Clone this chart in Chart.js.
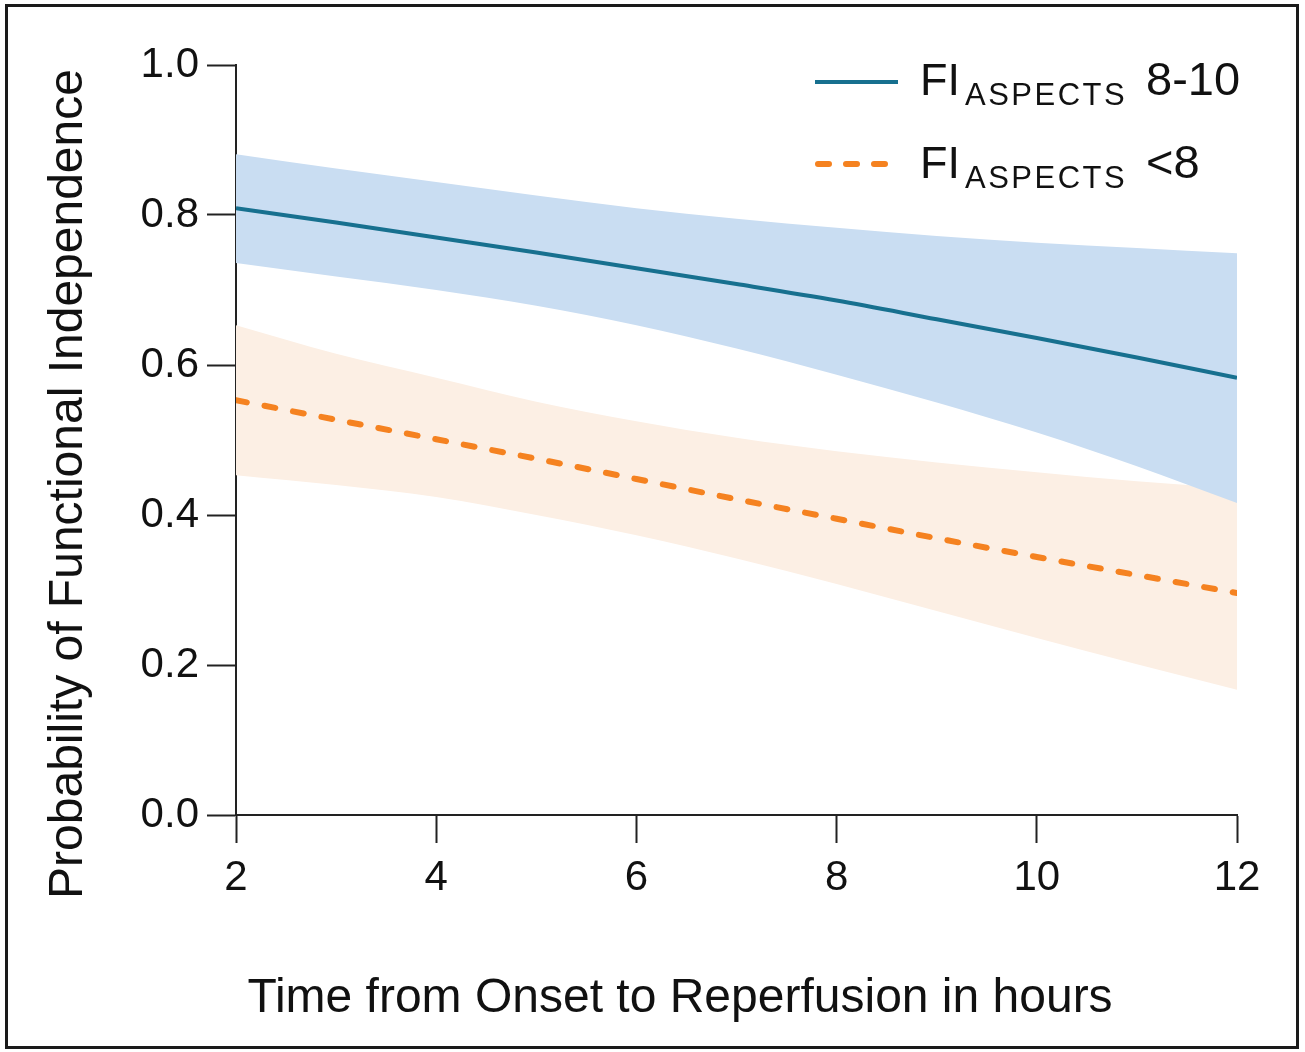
<!DOCTYPE html>
<html>
<head>
<meta charset="utf-8">
<script src="https://cdn.jsdelivr.net/npm/chart.js@4.4.1/dist/chart.umd.min.js"></script>
<style>
  html, body { margin: 0; padding: 0; background: #ffffff; }
</style>
</head>
<body>
<canvas id="courbe" width="1305" height="1052"></canvas>
<script>
// heures depuis le début jusqu'à la reperfusion
const heures = [2, 3, 4, 5, 6, 7, 8, 9, 10, 11, 12];

// FI ASPECTS 8-10
const bonAjuste = [0.809, 0.790, 0.770, 0.750, 0.729, 0.708, 0.686, 0.661, 0.636, 0.610, 0.583];
const bonHaut   = [0.881, 0.862, 0.844, 0.826, 0.809, 0.795, 0.783, 0.772, 0.763, 0.756, 0.749];
const bonBas    = [0.736, 0.718, 0.700, 0.679, 0.653, 0.622, 0.587, 0.550, 0.510, 0.465, 0.416];

// FI ASPECTS <8
const basAjuste = [0.553, 0.527, 0.501, 0.475, 0.448, 0.421, 0.395, 0.369, 0.344, 0.320, 0.296];
const basHaut   = [0.653, 0.615, 0.583, 0.551, 0.525, 0.503, 0.485, 0.470, 0.457, 0.445, 0.435];
const basBas    = [0.453, 0.440, 0.424, 0.400, 0.373, 0.342, 0.308, 0.272, 0.236, 0.201, 0.167];

const xTicks = [2, 4, 6, 8, 10, 12];
const yTicks = [0, 0.2, 0.4, 0.6, 0.8, 1.0];

const titreX = 'Time from Onset to Reperfusion in hours';
const titreY = 'Probability of Functional Independence';
const legende = [
    { nom: 'FI', indice: 'ASPECTS', suite: '8-10' },
    { nom: 'FI', indice: 'ASPECTS', suite: '<8' }
];

const bleu = '#17708f';
const orange = '#f58220';
const police = '"Liberation Sans", Arial, Helvetica, sans-serif';

function points(vals) {
    return heures.map((h, i) => ({ x: h, y: vals[i] }));
}

const ligne = { pointRadius: 0, pointHoverRadius: 0, cubicInterpolationMode: 'monotone' };
const bande = { pointRadius: 0, pointHoverRadius: 0, borderWidth: 0, cubicInterpolationMode: 'monotone' };

const data = {
    datasets: [
        { ...ligne, label: 'bon', data: points(bonAjuste), borderColor: bleu, borderWidth: 4, fill: false, order: 0 },
        { ...ligne, label: 'bas', data: points(basAjuste), borderColor: orange, borderWidth: 6,
          borderDash: [11, 18], borderCapStyle: 'round', fill: false, order: 0 },
        { ...bande, label: 'bonHaut', data: points(bonHaut), backgroundColor: '#c9ddf2', fill: 3, order: 1 },
        { ...bande, label: 'bonBas', data: points(bonBas), fill: false, order: 1 },
        { ...bande, label: 'basHaut', data: points(basHaut), backgroundColor: '#fcefe4', fill: 5, order: 2 },
        { ...bande, label: 'basBas', data: points(basBas), fill: false, order: 2 }
    ]
};

// cadre, titres et légende
const decor = {
    id: 'decor',
    beforeDraw(chart) {
        const ctx = chart.ctx;
        ctx.save();
        ctx.fillStyle = '#ffffff';
        ctx.fillRect(0, 0, chart.width, chart.height);
        ctx.restore();
    },
    afterDraw(chart) {
        const ctx = chart.ctx;
        ctx.save();
        ctx.strokeStyle = '#1a1a1a';
        ctx.lineWidth = 3;
        ctx.strokeRect(6.5, 5.5, 1291, 1042);

        ctx.fillStyle = '#111111';
        ctx.font = '48px ' + police;
        ctx.textAlign = 'center';
        ctx.textBaseline = 'alphabetic';
        ctx.fillText(titreX, 680, 1012);

        ctx.translate(82, 484);
        ctx.rotate(-Math.PI / 2);
        ctx.fillText(titreY, 0, 0);
        ctx.restore();

        // légende
        ctx.save();
        ctx.lineWidth = 4;
        ctx.strokeStyle = bleu;
        ctx.beginPath();
        ctx.moveTo(815, 82);
        ctx.lineTo(898, 82);
        ctx.stroke();

        ctx.strokeStyle = orange;
        ctx.lineWidth = 6;
        ctx.lineCap = 'round';
        ctx.setLineDash([11, 17]);
        ctx.beginPath();
        ctx.moveTo(818, 164);
        ctx.lineTo(888, 164);
        ctx.stroke();
        ctx.setLineDash([]);

        const lignesY = [95, 178];
        ctx.fillStyle = '#111111';
        ctx.textAlign = 'left';
        ctx.textBaseline = 'alphabetic';
        legende.forEach((l, i) => {
            const yb = lignesY[i];
            ctx.font = '45px ' + police;
            ctx.letterSpacing = '0px';
            ctx.fillText(l.nom, 920, yb);
            ctx.font = '31px ' + police;
            ctx.letterSpacing = '2.5px';
            ctx.fillText(l.indice, 965, yb + 10);
            ctx.letterSpacing = '0px';
            ctx.font = '47px ' + police;
            ctx.fillText(l.suite, 1146, yb);
        });
        ctx.restore();
    }
};

const config = {
    type: 'line',
    data: data,
    options: {
        responsive: false,
        animation: false,
        events: [],
        layout: {
            padding: { left: 0, top: 65, right: 68, bottom: 157 }
        },
        scales: {
            x: {
                type: 'linear',
                min: 2,
                max: 12,
                afterBuildTicks: (s) => { s.ticks = xTicks.map(v => ({ value: v })); },
                afterFit: (s) => { s.height = 80; },
                ticks: {
                    color: '#111111',
                    font: { size: 42, family: police },
                    padding: 10,
                    maxRotation: 0
                },
                grid: {
                    display: true,
                    drawOnChartArea: false,
                    drawTicks: true,
                    tickLength: 28,
                    tickColor: '#222222',
                    tickWidth: 2
                },
                border: { display: true, color: '#222222', width: 2 }
            },
            y: {
                min: 0,
                max: 1,
                afterBuildTicks: (s) => { s.ticks = yTicks.map(v => ({ value: v })); },
                afterFit: (s) => { s.width = 236; },
                ticks: {
                    color: '#111111',
                    font: { size: 42, family: police },
                    padding: 8,
                    callback: (v) => Number(v).toFixed(1)
                },
                grid: {
                    display: true,
                    drawOnChartArea: false,
                    drawTicks: true,
                    tickLength: 29,
                    tickColor: '#222222',
                    tickWidth: 2
                },
                border: { display: true, color: '#222222', width: 2 }
            }
        },
        plugins: {
            legend: { display: false },
            tooltip: { enabled: false },
            filler: { propagate: false }
        }
    },
    plugins: [decor]
};

const graphique = new Chart(document.getElementById('courbe').getContext('2d'), config);
</script>
</body>
</html>
